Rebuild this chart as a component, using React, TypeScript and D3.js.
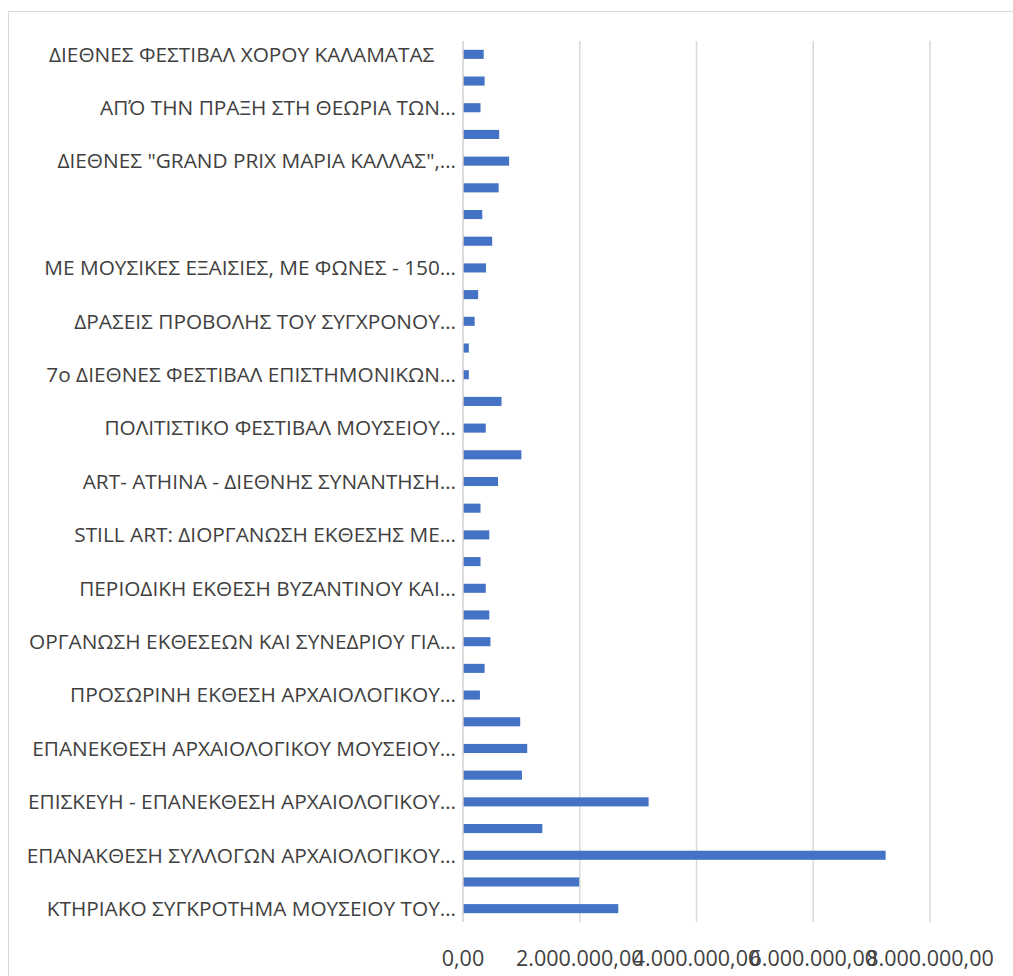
import React, { useEffect, useRef } from 'react';
import * as d3 from 'd3';

// κατηγορίες από πάνω προς τα κάτω (οι ενδιάμεσες δεν εμφανίζονται στο γράφημα)
const categories: string[] = [
    'ΔΙΕΘΝΕΣ ΦΕΣΤΙΒΑΛ ΧΟΡΟΥ ΚΑΛΑΜΑΤΑΣ    ',
    '',
    'ΑΠΌ ΤΗΝ ΠΡΑΞΗ ΣΤΗ ΘΕΩΡΙΑ ΤΩΝ…',
    '',
    'ΔΙΕΘΝΕΣ "GRAND PRIX ΜΑΡΙΑ ΚΑΛΛΑΣ",…',
    '',
    '',
    '',
    'ΜΕ ΜΟΥΣΙΚΕΣ ΕΞΑΙΣΙΕΣ, ΜΕ ΦΩΝΕΣ - 150…',
    '',
    'ΔΡΑΣΕΙΣ ΠΡΟΒΟΛΗΣ ΤΟΥ ΣΥΓΧΡΟΝΟΥ…',
    '',
    '7ο ΔΙΕΘΝΕΣ ΦΕΣΤΙΒΑΛ ΕΠΙΣΤΗΜΟΝΙΚΩΝ…',
    '',
    'ΠΟΛΙΤΙΣΤΙΚΟ ΦΕΣΤΙΒΑΛ ΜΟΥΣΕΙΟΥ…',
    '',
    'ART- ATHINA - ΔΙΕΘΝΗΣ ΣΥΝΑΝΤΗΣΗ…',
    '',
    'STILL ART: ΔΙΟΡΓΑΝΩΣΗ ΕΚΘΕΣΗΣ ΜΕ…',
    '',
    'ΠΕΡΙΟΔΙΚΗ ΕΚΘΕΣΗ ΒΥΖΑΝΤΙΝΟΥ ΚΑΙ…',
    '',
    'ΟΡΓΑΝΩΣΗ ΕΚΘΕΣΕΩΝ ΚΑΙ ΣΥΝΕΔΡΙΟΥ ΓΙΑ…',
    '',
    'ΠΡΟΣΩΡΙΝΗ ΕΚΘΕΣΗ ΑΡΧΑΙΟΛΟΓΙΚΟΥ…',
    '',
    'ΕΠΑΝΕΚΘΕΣΗ ΑΡΧΑΙΟΛΟΓΙΚΟΥ ΜΟΥΣΕΙΟΥ…',
    '',
    'ΕΠΙΣΚΕΥΗ - ΕΠΑΝΕΚΘΕΣΗ ΑΡΧΑΙΟΛΟΓΙΚΟΥ…',
    '',
    'ΕΠΑΝΑΚΘΕΣΗ ΣΥΛΛΟΓΩΝ ΑΡΧΑΙΟΛΟΓΙΚΟΥ…',
    '',
    'ΚΤΗΡΙΑΚΟ ΣΥΓΚΡΟΤΗΜΑ ΜΟΥΣΕΙΟΥ ΤΟΥ…',
];

// ποσά (€), ίδια σειρά με τις κατηγορίες
const values: number[] = [
    355000, 370000, 300000, 620000, 790000, 610000, 330000, 500000, 395000,
    260000, 200000, 100000, 100000, 660000, 390000, 1000000, 600000, 300000,
    450000, 300000, 390000, 450000, 470000, 370000, 290000, 980000, 1100000,
    1010000, 3180000, 1360000, 7240000, 1990000, 2660000,
];

const xTicks: number[] = [0, 2000000, 4000000, 6000000, 8000000];

const WIDTH = 1013;
const HEIGHT = 976;
const margin = { left: 463, right: 83, top: 41, bottom: 54 };

const fmt = d3
    .formatLocale({
        decimal: ',',
        thousands: '.',
        grouping: [3],
        currency: ['', '€'],
    })
    .format(',.2f');

const App: React.FC = () => {
    const svgRef = useRef<SVGSVGElement>(null);

    useEffect(() => {
        if (!svgRef.current) return;
        const svg = d3.select(svgRef.current);
        svg.selectAll('*').remove();

        const x = d3
            .scaleLinear()
            .domain([0, 8000000])
            .range([margin.left, WIDTH - margin.right]);

        const y = d3
            .scaleBand<number>()
            .domain(d3.range(categories.length))
            .range([margin.top, HEIGHT - margin.bottom])
            .paddingInner(0.66)
            .paddingOuter(0.33);

        // πλαίσιο γραφήματος
        svg.append('rect')
            .attr('x', 8.5)
            .attr('y', 11.5)
            .attr('width', WIDTH + 20)
            .attr('height', HEIGHT + 20)
            .attr('fill', '#fff')
            .attr('stroke', '#d9d9d9')
            .attr('stroke-width', 1);

        // γραμμές πλέγματος
        svg.append('g')
            .selectAll('line')
            .data(xTicks.slice(1))
            .join('line')
            .attr('x1', (d) => x(d))
            .attr('x2', (d) => x(d))
            .attr('y1', margin.top)
            .attr('y2', HEIGHT - margin.bottom)
            .attr('stroke', '#d9d9d9')
            .attr('stroke-width', 1.5);

        // ράβδοι
        svg.append('g')
            .selectAll('rect')
            .data(values)
            .join('rect')
            .attr('x', x(0))
            .attr('y', (_, i) => y(i) as number)
            .attr('width', (d) => x(d) - x(0))
            .attr('height', y.bandwidth())
            .attr('fill', '#4472c4');

        // κάθετος άξονας
        svg.append('line')
            .attr('x1', x(0))
            .attr('x2', x(0))
            .attr('y1', margin.top)
            .attr('y2', HEIGHT - margin.bottom)
            .attr('stroke', '#d0d0d0')
            .attr('stroke-width', 1.5);

        // ετικέτες κατηγοριών
        svg.append('g')
            .selectAll('text')
            .data(categories)
            .join('text')
            .attr('x', x(0) - 7)
            .attr('y', (_, i) => (y(i) as number) + y.bandwidth() / 2)
            .attr('dy', '0.35em')
            .attr('text-anchor', 'end')
            .style('white-space', 'pre')
            .style('font-family', '"Open Sans", sans-serif')
            .style('font-size', '20.8px')
            .style('fill', '#404040')
            .text((d) => d);

        // ετικέτες άξονα x
        svg.append('g')
            .selectAll('text')
            .data(xTicks)
            .join('text')
            .attr('x', (d) => x(d))
            .attr('y', 958)
            .attr('dy', '0.35em')
            .attr('text-anchor', 'middle')
            .style('font-family', '"Open Sans", sans-serif')
            .style('font-size', '21.5px')
            .style('fill', '#404040')
            .text((d) => fmt(d));
    }, []);

    return (
        <svg
            ref={svgRef}
            width={WIDTH}
            height={HEIGHT}
            style={{ position: 'absolute', left: 0, top: 0, display: 'block' }}
        />
    );
};

export default App;
